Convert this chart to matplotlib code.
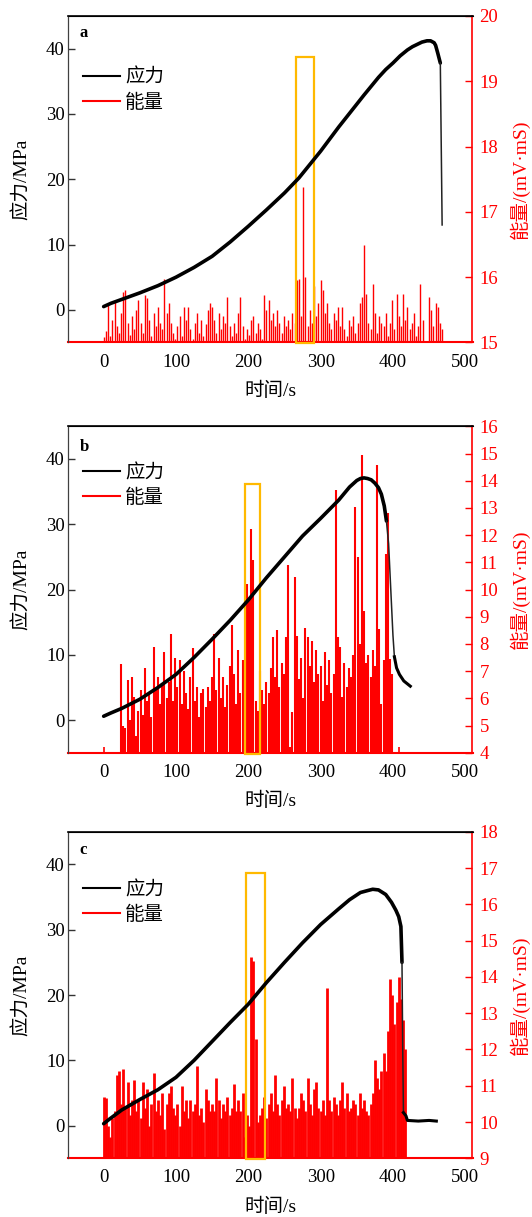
import numpy as np
import matplotlib.pyplot as plt
from matplotlib.lines import Line2D
from matplotlib.patches import Rectangle

plt.rcParams['font.family'] = ['Liberation Serif', 'Noto Sans CJK SC']
plt.rcParams['font.size'] = 13.5

# ---------------------------------------------------------------------------
# Data
# ---------------------------------------------------------------------------
# stress curves (time s, stress MPa)
stress_a_t = [0, 10, 25, 50, 75, 100, 125, 150, 175, 200, 225, 250, 270, 300, 325,
              350, 360, 380, 390, 400, 410, 420, 427, 440, 447, 452, 457, 459, 462,
              465.5, 468]
stress_a = [0.5, 1.0, 1.6, 2.6, 3.7, 5.0, 6.5, 8.2, 10.4, 12.8, 15.3, 17.9, 20.2, 24.3, 28.0,
            31.5, 32.9, 35.6, 36.8, 37.8, 38.9, 39.8, 40.3, 41.0, 41.2, 41.2, 40.9, 40.5, 39.3,
            37.8, 13.0]

stress_b_t = [0, 10, 25, 50, 75, 100, 125, 150, 175, 200, 225, 250, 275, 300, 325, 340,
              350, 355, 360, 365, 370, 375, 380, 384, 388, 391, 394, 397, 400, 402, 405,
              409, 415, 424]
stress_b = [0.6, 1.1, 1.8, 3.2, 5.0, 7.0, 9.6, 12.4, 15.3, 18.4, 21.8, 25.0, 28.2, 30.9, 33.7,
            35.7, 36.7, 37.0, 37.1, 37.0, 36.8, 36.3, 35.6, 34.6, 32.8, 30.5, 27.0, 20.0, 13.0,
            9.7, 8.0, 7.0, 6.0, 5.2]

stress_c_t = [0, 8, 25, 50, 75, 100, 125, 150, 175, 200, 225, 250, 275, 300, 325, 340,
              355, 365, 372, 380, 390, 398, 404, 408, 411, 412.5, 413.5, 414.5, 418, 420,
              435, 450, 460]
stress_c = [0.3, 1.0, 2.4, 4.0, 5.5, 7.4, 10.0, 12.9, 15.8, 18.6, 21.9, 25.0, 28.0, 30.8, 33.2,
            34.6, 35.7, 36.0, 36.2, 36.1, 35.4, 34.2, 33.0, 32.0, 30.5, 25.0, 12.0, 2.0, 1.5,
            0.8, 0.7, 0.8, 0.7]

# index range of the failure drop in each stress curve (drawn as a thin line)
drop_a = (29, 30)
drop_b = (25, 29)
drop_c = (25, 27)

# acoustic energy (mV·mS), one value per 3 s sample
energy_a_start, energy_b_start, energy_c_start = 0, 24, 0
energy_step = 3
energy_a = [
    15.08, 15.18, 15.6, 15.1, 15.35, 15.62, 15.25, 15.15, 15.45, 15.78,
    15.8, 15.3, 15.12, 15.4, 15.2, 15.5, 15.65, 15.3, 15.15, 15.72,
    15.68, 15.35, 15.1, 15.45, 15.25, 15.55, 15.3, 15.2, 15.98, 15.45,
    15.6, 15.3, 15.15, 15.05, 15.25, 15.4, 15.1, 15.55, 15.35, 15.55,
    15.2, 15.05, 15.3, 15.45, 15.15, 15.35, 15.1, 15.28, 15.5, 15.6,
    15.55, 15.35, 15.15, 15.45, 15.2, 15.4, 15.3, 15.7, 15.25, 15.1,
    15.3, 15.15, 15.45, 15.7, 15.25, 15.05, 15.2, 15.12, 15.35, 15.4,
    15.15, 15.3, 15.2, 15.05, 15.72, 15.5, 15.65, 15.35, 15.45, 15.25,
    15.5, 15.3, 15.15, 15.4, 15.25, 15.35, 15.2, 15.45, 15.3, 15.95,
    15.97, 15.4, 17.38, 16.0, 15.25, 15.5, 15.3, 15.87, 15.4, 15.6,
    15.95, 15.8, 15.45, 15.6, 15.3, 15.2, 15.45, 15.35, 15.55, 15.25,
    15.55, 15.2, 15.1, 15.35, 15.25, 15.4, 15.15, 15.3, 15.6, 15.7,
    16.5, 15.75, 15.3, 15.2, 15.9, 15.45, 15.15, 15.4, 15.3, 15.25,
    15.45, 15.1, 15.3, 15.65, 15.2, 15.75, 15.4, 15.25, 15.75, 15.35,
    15.55, 15.2, 15.3, 15.45, 15.1, 15.25, 15.9, 15.35, 15.0, 15.0,
    15.7, 15.5, 15.25, 15.6, 15.55, 15.3, 15.2,
]
energy_b = [
    7.27, 5.0, 4.9, 6.66, 5.2, 6.78, 6.05, 4.6, 5.55, 6.3,
    5.4, 7.1, 5.9, 6.2, 5.3, 7.9, 6.3, 6.8, 5.8, 6.5,
    7.7, 6.0, 6.6, 8.35, 5.9, 7.5, 6.4, 7.4, 5.8, 7.0,
    6.2, 5.6, 6.8, 7.86, 5.9, 6.4, 5.3, 6.2, 6.35, 5.7,
    6.4, 5.9, 6.8, 8.37, 6.3, 7.5, 6.0, 6.8, 5.7, 6.5,
    7.2, 8.7, 6.9, 5.8, 7.76, 6.2, 7.4, 6.5, 10.2, 9.6,
    12.24, 11.07, 5.9, 5.55, 7.0, 6.3, 5.8, 6.6, 6.2, 7.1,
    8.25, 6.8, 8.5, 6.4, 7.3, 6.9, 8.25, 10.9, 4.2, 5.5,
    10.46, 8.3, 6.7, 7.5, 6.0, 8.6, 8.25, 7.2, 8.1, 6.6,
    7.76, 6.9, 7.2, 5.9, 7.7, 6.5, 7.4, 6.2, 6.9, 13.65,
    8.25, 7.9, 6.05, 7.3, 6.4, 7.1, 6.8, 7.6, 13.03, 11.2,
    8.0, 14.93, 9.2, 7.3, 7.6, 6.8, 7.76, 7.2, 14.56, 8.56,
    5.8, 7.4, 11.3, 12.8, 7.45, 6.9,
]
energy_b_extra_t = [0, 409]   # isolated small events
energy_b_extra = [4.2, 4.2]
energy_c = [
    10.7, 10.65, 9.9, 9.6, 10.1, 10.3, 11.3, 11.4, 10.5, 11.45,
    10.4, 11.1, 10.2, 10.6, 11.15, 10.3, 10.6, 10.1, 11.1, 10.4,
    10.9, 9.9, 10.5, 11.35, 10.3, 10.6, 10.2, 10.8, 9.8, 10.5,
    10.8, 11.0, 10.4, 10.2, 10.5, 9.9, 11.0, 10.3, 10.6, 10.1,
    10.6, 10.3, 10.5, 11.55, 10.2, 10.4, 10.0, 10.9, 10.6, 10.3,
    10.5, 10.3, 11.2, 10.6, 10.1, 10.5, 10.3, 10.7, 10.2, 10.4,
    11.05, 10.3, 10.6, 10.3, 10.8, 9.6, 10.2, 9.9, 14.55, 14.45,
    12.3, 10.0, 10.2, 10.4, 10.7, 10.1, 10.5, 10.8, 10.3, 11.3,
    10.5, 10.2, 10.6, 11.0, 10.4, 10.5, 10.3, 11.2, 10.4, 10.1,
    10.4, 10.8, 10.6, 10.3, 11.2, 10.5, 10.2, 10.9, 11.1, 10.4,
    10.3, 10.6, 10.2, 13.7, 10.6, 10.3, 10.7, 10.5, 10.2, 10.6,
    11.1, 10.4, 10.8, 10.3, 10.4, 10.6, 10.5, 10.2, 10.8, 10.4,
    10.6, 10.3, 10.2, 10.5, 10.8, 11.7, 11.2, 10.9, 11.4, 11.9,
    11.4, 12.5, 13.95, 13.5, 12.7, 13.3, 14.0, 13.4, 12.8, 12.0,
]

# highlighted windows (t0, t1, top stress)
box_a = (266, 291, 38.7)
box_b = (195, 216, 36.2)
box_c = (197, 223, 38.7)

panel_labels = ['a', 'b', 'c']
energy_ylims = [(15, 20), (4, 16), (9, 18)]

# ---------------------------------------------------------------------------
W, H = 532, 1217
fig = plt.figure(figsize=(W / 100, H / 100), dpi=100)

ax_left, ax_w, ax_h = 67.5 / W, 405 / W, 326.5 / H
bottoms = [1 - 342.5 / H, 1 - 752.8 / H, 1 - 1158.3 / H]
legend_y = [0.875, 0.92, 0.885]
label_y = [0.948, 0.937, 0.945]
energy_lw = [1.0, 1.5, 2.0]

stress_sets = [(stress_a_t, stress_a), (stress_b_t, stress_b), (stress_c_t, stress_c)]
drops = [drop_a, drop_b, drop_c]
energy_sets = [(energy_a_start, energy_a), (energy_b_start, energy_b), (energy_c_start, energy_c)]
boxes = [box_a, box_b, box_c]

for i in range(3):
    ax = fig.add_axes([ax_left, bottoms[i], ax_w, ax_h])
    ax2 = ax.twinx()
    ax.set_zorder(ax2.get_zorder() + 1)
    ax.patch.set_visible(False)

    # energy drop lines
    e_lo, e_hi = energy_ylims[i]
    start, vals = energy_sets[i]
    times = start + energy_step * np.arange(len(vals))
    ax2.vlines(times, e_lo, vals, color='red', linewidth=energy_lw[i])
    if i == 1:
        ax2.vlines(energy_b_extra_t, e_lo, energy_b_extra, color='red', linewidth=1.2)
    ax2.set_ylim(e_lo, e_hi)
    ax2.set_yticks(np.arange(e_lo, e_hi + 1, 1))
    ax2.tick_params(axis='y', direction='in', length=5, width=1, colors='red',
                    labelsize=13.5, pad=5)
    ax2.set_ylabel('能量/(mV·mS)', color='red', fontsize=14, labelpad=8)
    ax2.spines['right'].set_color('red')
    ax2.spines['bottom'].set_color('red')
    ax2.spines['right'].set_linewidth(1.2)
    ax2.spines['bottom'].set_linewidth(1.5)

    # stress: thick noisy-looking loading branch, thin failure drop
    st, sv = stress_sets[i]
    d0, d1 = drops[i]
    ax.plot(st[:d0 + 1], sv[:d0 + 1], color='black', linewidth=2.6,
            solid_joinstyle='round', solid_capstyle='round', zorder=3)
    ax.plot(st[d0:d1 + 1], sv[d0:d1 + 1], color='#222222', linewidth=1.1, zorder=3)
    if d1 < len(st) - 1:
        ax.plot(st[d1:], sv[d1:], color='black', linewidth=2.2,
                solid_joinstyle='round', zorder=3)

    t0, t1, top = boxes[i]
    ax.add_patch(Rectangle((t0, -5.15), t1 - t0, top + 5.15, fill=False,
                           edgecolor='#FFB900', linewidth=1.6, clip_on=False, zorder=2))

    ax.set_xlim(-50, 510)
    ax.set_ylim(-5, 45)
    ax.set_xticks([0, 100, 200, 300, 400, 500])
    ax.set_yticks([0, 10, 20, 30, 40])
    ax.tick_params(axis='y', direction='in', length=5, width=1, colors='#333333',
                   labelcolor='black', labelsize=13.5, pad=2)
    ax.tick_params(axis='x', length=0, labelsize=13.5, pad=8)
    ax.spines['left'].set_color('#404040')
    ax.spines['bottom'].set_visible(False)
    ax.spines['right'].set_visible(False)
    ax.spines['top'].set_linewidth(1.2)
    ax.set_xlabel('时间/s', fontsize=14, labelpad=8)
    ax.set_ylabel('应力/MPa', fontsize=14, labelpad=11)

    ax.text(0.03, label_y[i], panel_labels[i], transform=ax.transAxes,
            fontsize=12, fontweight='bold', va='center', ha='left')

    handles = [Line2D([], [], color='black', linewidth=1.5),
               Line2D([], [], color='red', linewidth=1.5)]
    ax.legend(handles, ['应力', '能量'], loc='upper left', bbox_to_anchor=(0.01, legend_y[i]),
              frameon=False, fontsize=14, handlelength=1.9, handletextpad=0.25,
              labelspacing=0.35, borderaxespad=0.2)

fig.savefig('out.png', dpi=100)
